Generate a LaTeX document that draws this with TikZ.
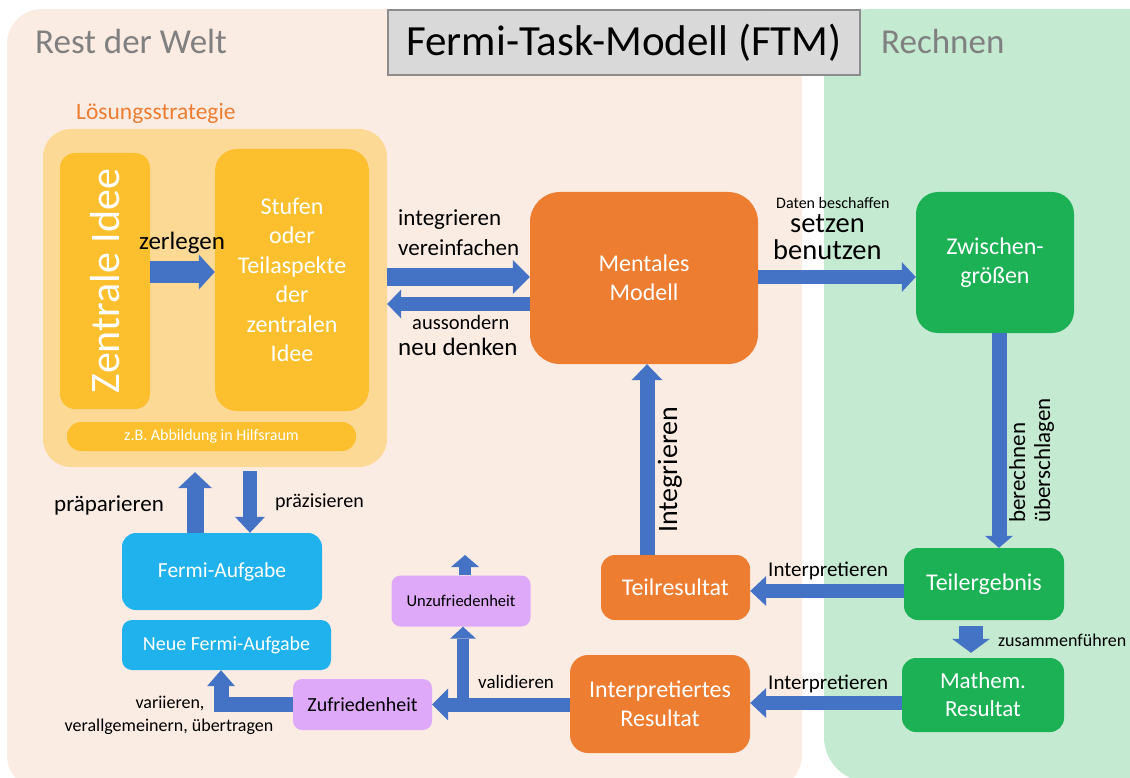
\documentclass[tikz,border=0pt]{standalone}
\usepackage{fontspec}
\setmainfont{Carlito}
\usetikzlibrary{arrows.meta}
\definecolor{pinkbg}{HTML}{FBECE3}
\definecolor{greenbg}{HTML}{C4EAD2}
\definecolor{lsgbg}{HTML}{FDD996}
\definecolor{yel}{HTML}{FCBF2D}
\definecolor{orng}{HTML}{ED7D31}
\definecolor{grn}{HTML}{1DB156}
\definecolor{blu}{HTML}{1FB2EC}
\definecolor{purp}{HTML}{DEA9F9}
\definecolor{ablue}{HTML}{4472C4}
\definecolor{graytext}{HTML}{808080}
\definecolor{titlefill}{HTML}{D9D9D9}
\definecolor{titledraw}{HTML}{8C8C8C}
\newcommand{\fsz}[2]{\fontsize{#1}{#2}\selectfont}
\begin{document}
\begin{tikzpicture}[x=1pt,y=-1pt,
  nd/.style={inner sep=0pt, align=center, text=white},
  lbl/.style={inner sep=0pt, text=black},
  arr/.style n args={3}{draw=ablue, line width=#1, -{Triangle[width=#2,length=#3,line width=0pt]}}
]
\useasboundingbox (0,0) rectangle (1130,778);
\clip (0,0) rectangle (1130,778);
% panels
\fill[pinkbg, rounded corners=35pt] (7,9) rectangle (802,790);
\fill[greenbg, rounded corners=45pt] (824,9) rectangle (1180,782);
% title and headers
\node[draw=titledraw, fill=titlefill, line width=1.5pt, minimum width=472pt, minimum height=65pt, inner sep=0pt, font=\fsz{43}{50}] (title) at (624,42.5) {Fermi-Task-Modell (FTM)};
\node[lbl, text=graytext, anchor=base west, font=\fsz{35}{40}] (rdw) at (35,54) {Rest der Welt};
\node[lbl, text=graytext, anchor=base west, font=\fsz{35}{40}] (rech) at (881,54) {Rechnen};
\node[lbl, text=orng, anchor=base west, font=\fsz{23.5}{28}] (lsgt) at (76,120) {Lösungsstrategie};
% strategy box
\node[nd, fill=lsgbg, rounded corners=28pt, minimum width=344pt, minimum height=338pt] (lsg) at (215,298) {};
\node[nd, fill=yel, rounded corners=15pt, minimum width=256pt, minimum height=90pt, rotate=90, font=\fsz{42}{48}] (zi) at (105,281) {Zentrale Idee};
\node[nd, fill=yel, rounded corners=22pt, minimum width=154pt, minimum height=262pt, font=\fsz{24}{29.5}] (stufen) at (292,280) {Stufen\\oder\\Teilaspekte\\der\\zentralen\\Idee};
\node[nd, fill=yel, rounded corners=14pt, minimum width=289pt, minimum height=29pt, font=\fsz{16}{19}] (zb) at (211.5,436.5) {z.B. Abbildung in Hilfsraum};
% main nodes
\node[nd, fill=orng, rounded corners=30pt, minimum width=228pt, minimum height=172pt, font=\fsz{24}{29}] (mm) at (644,278) {Mentales\\Modell};
\node[nd, fill=grn, rounded corners=22pt, minimum width=158pt, minimum height=141pt, font=\fsz{24}{29}] (zg) at (995,262.5) {Zwischen-\\größen};
\node[nd, fill=grn, rounded corners=14pt, minimum width=160pt, minimum height=72pt, font=\fsz{24}{29}] (te) at (984,584) {Teilergebnis};
\node[nd, fill=grn, rounded corners=14pt, minimum width=162pt, minimum height=74pt, font=\fsz{23}{28}] (mr) at (983,695) {Mathem.\\Resultat};
\node[nd, fill=orng, rounded corners=14pt, minimum width=149pt, minimum height=65pt, font=\fsz{24}{29}] (tr) at (675.5,587.5) {Teilresultat};
\node[nd, fill=orng, rounded corners=18pt, minimum width=180pt, minimum height=98pt, font=\fsz{24}{29}] (ir) at (660,704) {Interpretiertes\\Resultat};
\node[nd, text=black, fill=purp, rounded corners=9pt, minimum width=139pt, minimum height=51pt, font=\fsz{16.5}{20}] (uz) at (461,601) {Unzufriedenheit};
\node[nd, text=black, fill=purp, rounded corners=9pt, minimum width=139pt, minimum height=51pt, font=\fsz{20}{24}] (zf) at (362.5,704.5) {Zufriedenheit};
\node[nd, fill=blu, rounded corners=10pt, minimum width=209pt, minimum height=50pt, font=\fsz{20}{24}] (nfa) at (226.5,645) {Neue Fermi-Aufgabe};
\node[nd, fill=blu, rounded corners=14pt, minimum width=200pt, minimum height=77pt, font=\fsz{21.5}{26}] (fa) at (222,571.5) {Fermi-Aufgabe};
% helper coordinates
\coordinate (yZ) at (0,272);
\coordinate (yI) at (0,277);
\coordinate (yA) at (0,304);
\coordinate (yMZ) at (0,277);
\coordinate (xZT) at (999,0);
\coordinate (yTT) at (0,591);
\coordinate (xTM) at (647,0);
\coordinate (xZF) at (971,0);
\coordinate (yMI) at (0,703);
\coordinate (yIZ) at (0,704.5);
\coordinate (xB) at (463,0);
\coordinate (uzup) at (465,555);
\coordinate (xN) at (221,0);
\coordinate (xP) at (195,0);
\coordinate (xQ) at (250,0);
% arrows
\draw[arr={21pt}{35pt}{16pt}] (zi.south |- yZ) -- (stufen.west |- yZ);
\draw[arr={18pt}{34pt}{17pt}] (lsg.east |- yI) -- (mm.west |- yI);
\draw[arr={14pt}{29pt}{14pt}] (mm.west |- yA) -- (lsg.east |- yA);
\draw[arr={14pt}{30pt}{14pt}] (mm.east |- yMZ) -- (zg.west |- yMZ);
\draw[arr={15pt}{28pt}{12pt}] (zg.south -| xZT) -- (te.north -| xZT);
\draw[arr={14pt}{30pt}{16pt}] (te.west |- yTT) -- (tr.east |- yTT);
\draw[arr={15pt}{31pt}{16pt}] (tr.north -| xTM) -- (mm.south -| xTM);
\draw[arr={24pt}{38pt}{14pt}, shorten <=6pt, shorten >=5pt] (te.south -| xZF) -- (mr.north -| xZF);
\draw[arr={14pt}{30pt}{16pt}] (mr.west |- yMI) -- (ir.east |- yMI);
\draw[arr={14pt}{32pt}{16pt}] (ir.west |- yIZ) -- (zf.east |- yIZ);
\draw[arr={12pt}{26pt}{12pt}] (xB |- yIZ) -- (uz.south -| xB);
\draw[arr={12pt}{28pt}{12pt}] (uz.north -| uzup) -- (uzup);
\draw[arr={15pt}{28pt}{16pt}] (zf.west) -| (nfa.south -| xN);
\draw[arr={17pt}{34pt}{16pt}, shorten >=5pt] (fa.north -| xP) -- (lsg.south -| xP);
\draw[arr={14pt}{30pt}{16pt}, shorten <=4pt] (lsg.south -| xQ) -- (fa.north -| xQ);
% labels
\node[lbl, anchor=base west, font=\fsz{25}{30}] (lzer) at (139,250) {zerlegen};
\node[lbl, anchor=base west, font=\fsz{23}{28}] (lint) at (398,226) {integrieren};
\node[lbl, anchor=base west, font=\fsz{23}{28}] (lver) at (398,255) {vereinfachen};
\node[lbl, anchor=base west, font=\fsz{20.5}{25}] (laus) at (412,329) {aussondern};
\node[lbl, anchor=base west, font=\fsz{25}{30}] (lneu) at (398,355) {neu denken};
\node[lbl, anchor=base west, font=\fsz{16}{19}] (ldat) at (776,209) {Daten beschaffen};
\node[lbl, anchor=base west, font=\fsz{28.5}{34}] (lset) at (790,233) {setzen};
\node[lbl, anchor=base west, font=\fsz{28.5}{34}] (lben) at (773,260) {benutzen};
\node[lbl, anchor=base west, rotate=90, font=\fsz{23}{28}] (lber) at (1025,523) {berechnen};
\node[lbl, anchor=base west, rotate=90, font=\fsz{23}{28}] (lueb) at (1050,523) {überschlagen};
\node[lbl, anchor=base west, rotate=90, font=\fsz{28}{33}] (lintg) at (677,533) {Integrieren};
\node[lbl, anchor=base west, font=\fsz{21}{25}] (lip1) at (768,576) {Interpretieren};
\node[lbl, anchor=base west, font=\fsz{21}{25}] (lip2) at (768,689) {Interpretieren};
\node[lbl, anchor=base west, font=\fsz{18}{22}] (lzus) at (998,646) {zusammenführen};
\node[lbl, anchor=base west, font=\fsz{19}{23}] (lval) at (478,688) {validieren};
\node[lbl, anchor=base west, font=\fsz{23}{28}] (lpra) at (54,511) {präparieren};
\node[lbl, anchor=base west, font=\fsz{20}{24}] (lprz) at (275,507) {präzisieren};
\node[lbl, anchor=base, font=\fsz{18}{22}] (lvar) at (170,708) {variieren,};
\node[lbl, anchor=base, font=\fsz{18}{22}] (lverg) at (169,731) {verallgemeinern, übertragen};
\end{tikzpicture}
\end{document}
